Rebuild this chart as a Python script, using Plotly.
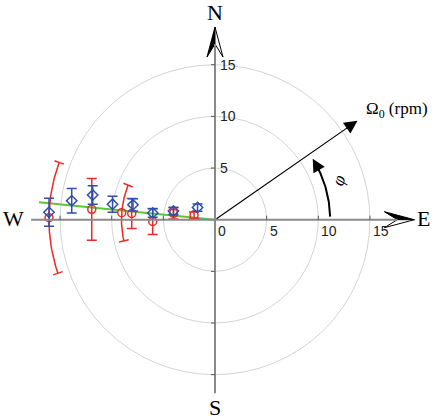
import numpy as np
import plotly.graph_objects as go

# blue diamonds, vertical error bars (rpm)
blue_x = [-16.07, -13.87, -11.84, -9.92, -7.94, -6.03, -4.02, -1.69]
blue_y = [0.72, 1.84, 2.39, 1.49, 1.44, 0.65, 0.84, 1.18]
blue_err = [1.35, 1.18, 0.90, 0.77, 0.60, 0.42, 0.35, 0.35]

# red circles; "arc" errors are in degrees around the origin, "y" in rpm
red_x = [-16.07, -11.93, -9.03, -8.06, -6.03, -4.02, -2.03]
red_y = [0.19, 1.00, 0.68, 0.60, -0.17, 0.62, 0.45]
red_err = [19.5, 3.0, 17.4, 1.45, 1.26, 0.55, 0.30]
red_kind = ["arc", "y", "arc", "y", "y", "y", "y"]

fit_x = [-17.04, 0.0]
fit_y = [1.68, 0.0]

rings = [5, 10, 15]
tick_vals = [5, 10, 15]
x_labels = ["0", "5", "10", "15"]
x_label_pos = [0, 5, 10, 15]
y_labels = ["5", "10", "15"]
y_label_pos = [5, 10, 15]

omega_angle = 34.8
omega_len = 16.8
phi_r = 11.15
phi_span = [1.5, 32.0]

S = 10.33          # px per rpm
ox, oy = 215, 219.7
W, H = 436, 419

BLUE = "#2f4fa8"
RED = "#ee2a24"
GREEN = "#5ec43c"
AXIS = "#8a8a8a"
RING = "#d4d4d4"

fig = go.Figure()
shapes = []

for r in rings:
    shapes.append(dict(type="circle", xref="x", yref="y", x0=-r, x1=r, y0=-r, y1=r,
                       line=dict(color=RING, width=1), layer="below"))

x_end, x_tip = -17.8, 19.3
y_end, y_tip = -16.8, 18.65


def arrow_head(tip, d):
    d = np.array(d, float)
    n = np.array([-d[1], d[0]])
    t = np.array(tip, float)
    L, Wd, N = 30 / S, 8 / S, 17 / S
    left = t - L * d + Wd * n
    right = t - L * d - Wd * n
    notch = t - N * d
    def path(pts):
        return "M " + " L ".join(f"{p[0]:.4f},{p[1]:.4f}" for p in pts) + " Z"
    shapes.append(dict(type="path", xref="x", yref="y", path=path([t, left, notch]),
                       fillcolor="black", line=dict(color="black", width=1)))
    shapes.append(dict(type="path", xref="x", yref="y", path=path([t, right, notch]),
                       fillcolor="white", line=dict(color="black", width=1)))
    return notch


nE = arrow_head((x_tip, 0), (1, 0))
nN = arrow_head((0, y_tip), (0, 1))

shapes.append(dict(type="line", xref="x", yref="y", x0=x_end, x1=nE[0], y0=0, y1=0,
                   line=dict(color=AXIS, width=2)))
shapes.append(dict(type="line", xref="x", yref="y", x0=0, x1=0, y0=y_end, y1=nN[1],
                   line=dict(color=AXIS, width=2)))

tl = 4 / S
for v in tick_vals:
    for sgn in (-1, 1):
        shapes.append(dict(type="line", xref="x", yref="y", x0=sgn * v, x1=sgn * v, y0=0, y1=tl,
                           line=dict(color="#555555", width=1)))
        shapes.append(dict(type="line", xref="x", yref="y", x0=-tl, x1=0, y0=sgn * v, y1=sgn * v,
                           line=dict(color="#555555", width=1)))

# fit line
fig.add_trace(go.Scatter(x=fit_x, y=fit_y, mode="lines", line=dict(color=GREEN, width=2),
                         hoverinfo="skip"))

# red angular error arcs
cap = 5 / S
for x, y, e, k in zip(red_x, red_y, red_err, red_kind):
    if k != "arc":
        continue
    r = np.hypot(x, y)
    th = np.degrees(np.arctan2(y, x))
    a = np.radians(np.linspace(th - e, th + e, 60))
    fig.add_trace(go.Scatter(x=r * np.cos(a), y=r * np.sin(a), mode="lines",
                             line=dict(color=RED, width=1.5), hoverinfo="skip"))
    for ang in (a[0], a[-1]):
        fig.add_trace(go.Scatter(x=[(r - cap) * np.cos(ang), (r + cap) * np.cos(ang)],
                                 y=[(r - cap) * np.sin(ang), (r + cap) * np.sin(ang)],
                                 mode="lines", line=dict(color=RED, width=1.5), hoverinfo="skip"))

ry = [i for i, k in enumerate(red_kind) if k == "y"]
ra = [i for i, k in enumerate(red_kind) if k == "arc"]
fig.add_trace(go.Scatter(
    x=[red_x[i] for i in ry], y=[red_y[i] for i in ry], mode="markers",
    marker=dict(symbol="circle-open", size=8, color=RED, line=dict(width=1.5)),
    error_y=dict(type="data", array=[red_err[i] for i in ry], color=RED, thickness=1.5, width=5)))
fig.add_trace(go.Scatter(
    x=[red_x[i] for i in ra], y=[red_y[i] for i in ra], mode="markers",
    marker=dict(symbol="circle-open", size=8, color=RED, line=dict(width=1.5))))

fig.add_trace(go.Scatter(
    x=blue_x, y=blue_y, mode="markers",
    marker=dict(symbol="diamond-open", size=8, color=BLUE, line=dict(width=1.5)),
    error_y=dict(type="data", array=blue_err, color=BLUE, thickness=1.5, width=5)))

# phi arc arrow
pa = np.radians(np.linspace(phi_span[0], phi_span[1] - 3, 40))
fig.add_trace(go.Scatter(x=phi_r * np.cos(pa), y=phi_r * np.sin(pa), mode="lines",
                         line=dict(color="black", width=2), hoverinfo="skip"))

ann = []
t0 = np.radians(phi_span[1] - 5)
t1 = np.radians(phi_span[1])
ann.append(dict(x=phi_r * np.cos(t1), y=phi_r * np.sin(t1), ax=phi_r * np.cos(t0), ay=phi_r * np.sin(t0),
                xref="x", yref="y", axref="x", ayref="y", text="", showarrow=True,
                arrowhead=2, arrowsize=1.3, arrowwidth=2, arrowcolor="black"))

oa = np.radians(omega_angle)
ann.append(dict(x=omega_len * np.cos(oa), y=omega_len * np.sin(oa), ax=0, ay=0,
                xref="x", yref="y", axref="x", ayref="y", text="", showarrow=True,
                arrowhead=2, arrowsize=2.2, arrowwidth=1.2, arrowcolor="black"))

serif = "Liberation Serif"
ann.append(dict(x=14.4, y=10.6, xref="x", yref="y", xanchor="left", showarrow=False,
                text="Ω<sub>0</sub> (rpm)", font=dict(family=serif, size=17, color="black")))
ann.append(dict(x=12.0, y=3.8, xref="x", yref="y", showarrow=False, textangle=-70,
                text="<i>φ</i>", font=dict(family=serif, size=18, color="black")))

for txt, x, y in [("N", 0, 20.1), ("S", 0, -18.2), ("W", -19.5, 0.1), ("E", 20.2, 0.1)]:
    ann.append(dict(x=x, y=y, xref="x", yref="y", showarrow=False, text=txt,
                    font=dict(family=serif, size=22, color="black")))

for lab, v in zip(x_labels, x_label_pos):
    ann.append(dict(x=v, y=0, xref="x", yref="y", xanchor="left", yanchor="top", xshift=1, yshift=-1,
                    showarrow=False, text=lab, font=dict(family="Liberation Sans", size=14, color="#222")))
for lab, v in zip(y_labels, y_label_pos):
    ann.append(dict(x=0, y=v, xref="x", yref="y", xanchor="left", yanchor="middle", xshift=3,
                    showarrow=False, text=lab, font=dict(family="Liberation Sans", size=14, color="#222")))

fig.update_layout(
    width=W, height=H, margin=dict(l=0, r=0, t=0, b=0),
    paper_bgcolor="white", plot_bgcolor="white", showlegend=False,
    xaxis=dict(range=[-ox / S, (W - ox) / S], visible=False, fixedrange=True),
    yaxis=dict(range=[-(H - oy) / S, oy / S], visible=False, fixedrange=True),
    shapes=shapes, annotations=ann,
)

fig.write_html("out.html", config={"displayModeBar": False},
               post_script="document.body.style.margin='0';document.body.style.overflow='hidden';")
